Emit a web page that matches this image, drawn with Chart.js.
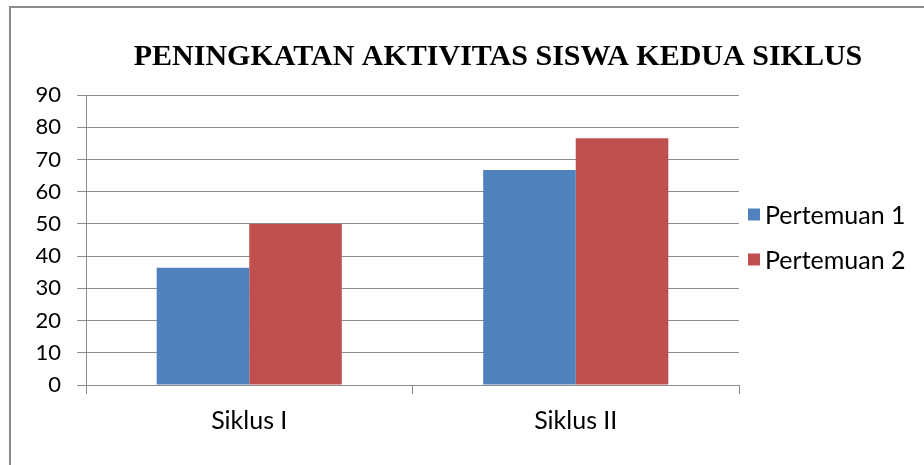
<!DOCTYPE html>
<html>
<head>
<meta charset="utf-8">
<script src="https://cdn.jsdelivr.net/npm/chart.js@4/dist/chart.umd.min.js"></script>
<style>
    html, body { margin: 0; padding: 0; background: #fff; }
    #wrap { position: relative; width: 924px; height: 465px; }
    #frame {
        position: absolute; left: 9px; top: 6px; right: -4px; bottom: -4px;
        border-left: 2px solid #8c8c8c; border-top: 2px solid #8c8c8c;
    }
    canvas { position: absolute; left: 0; top: 0; }
</style>
</head>
<body>
<div id="wrap">
    <div id="frame"></div>
    <canvas id="chart" width="924" height="465"></canvas>
</div>
<script>
// Datos del gráfico
const judul = 'PENINGKATAN AKTIVITAS SISWA KEDUA SIKLUS';
const kategori = ['Siklus I', 'Siklus II'];
const pertemuan1 = [36.4, 66.7];
const pertemuan2 = [50, 76.6];
const labelSeri = ['Pertemuan 1', 'Pertemuan 2'];
const warnaSeri = ['#4f81bd', '#c0504d'];

const fontTeks = "Lato, 'Open Sans', sans-serif";
const abu = '#8c8c8c';

// Judul: Excel lo centra sobre área de trazado + leyenda
const judulPlugin = {
    id: 'judulPlugin',
    afterDraw(chart) {
        const ctx = chart.ctx;
        const cx = (chart.chartArea.left + chart.width - 14) / 2;
        ctx.save();
        ctx.font = "bold 30px 'Liberation Serif', 'Times New Roman', serif";
        ctx.fillStyle = '#000';
        ctx.textAlign = 'center';
        ctx.textBaseline = 'alphabetic';
        ctx.fillText(judul, cx, 65);
        ctx.restore();
    }
};

// Leyenda al estilo Excel (cuadro pequeño, filas separadas)
const legendaPlugin = {
    id: 'legendaPlugin',
    afterDraw(chart) {
        const ctx = chart.ctx;
        const area = chart.chartArea;
        const x = area.right + 9;
        const tengah = (area.top + area.bottom) / 2 - 3;
        const jarak = 45;
        const n = chart.data.datasets.length;
        ctx.save();
        ctx.font = '25px ' + fontTeks;
        ctx.textBaseline = 'middle';
        ctx.textAlign = 'left';
        chart.data.datasets.forEach((ds, i) => {
            const y = tengah + (i - (n - 1) / 2) * jarak;
            ctx.fillStyle = ds.backgroundColor;
            ctx.fillRect(x, y - 6, 12, 12);
            ctx.fillStyle = '#000';
            ctx.fillText(ds.label, x + 17, y + 1);
        });
        ctx.restore();
    }
};

const ctx = document.getElementById('chart').getContext('2d');
new Chart(ctx, {
    type: 'bar',
    data: {
        labels: kategori,
        datasets: [
            { label: labelSeri[0], data: pertemuan1, backgroundColor: warnaSeri[0] },
            { label: labelSeri[1], data: pertemuan2, backgroundColor: warnaSeri[1] }
        ]
    },
    options: {
        responsive: false,
        animation: false,
        layout: { padding: { top: 95, left: 0, right: 185, bottom: 0 } },
        datasets: { bar: { categoryPercentage: 0.567, barPercentage: 1.0 } },
        plugins: {
            legend: { display: false },
            tooltip: { enabled: false }
        },
        scales: {
            x: {
                afterFit: s => { s.height = 80; },
                grid: { drawOnChartArea: false, offset: true, tickLength: 9, color: abu },
                border: { color: abu, width: 1 },
                ticks: { font: { family: fontTeks, size: 25 }, color: '#000', padding: 12 }
            },
            y: {
                min: 0,
                max: 90,
                afterFit: s => { s.width = 86; },
                grid: { color: abu, tickLength: 9 },
                border: { color: abu, width: 1 },
                ticks: { stepSize: 10, font: { family: fontTeks, size: 22 }, color: '#000', padding: 16 }
            }
        }
    },
    plugins: [judulPlugin, legendaPlugin]
});
</script>
</body>
</html>
